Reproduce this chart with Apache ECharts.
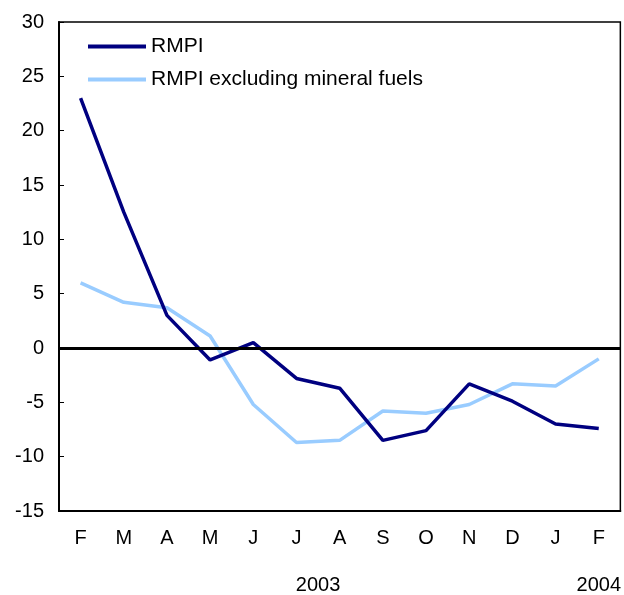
<!DOCTYPE html>
<html>
<head>
<meta charset="utf-8">
<script src="https://cdn.jsdelivr.net/npm/echarts@6/dist/echarts.min.js"></script>
<style>
  html, body { margin: 0; padding: 0; background: #fff; }
  #chart { width: 624px; height: 595px; }
</style>
</head>
<body>
<div id="chart"></div>
<script>
// 月份
const months = ['F', 'M', 'A', 'M', 'J', 'J', 'A', 'S', 'O', 'N', 'D', 'J', 'F']
// 年份标签（位置以月份序号计）
const yearLabels = [
  { pos: 6, text: '2003' },
  { pos: 12.5, text: '2004' }
]
const rmpi = [23.0, 12.5, 3.0, -1.1, 0.5, -2.8, -3.7, -8.5, -7.6, -3.3, -4.9, -7.0, -7.4]
const rmpiExFuels = [6.0, 4.2, 3.7, 1.1, -5.2, -8.7, -8.5, -5.8, -6.0, -5.2, -3.3, -3.5, -1.0]

const font = 'Liberation Sans, Arial, sans-serif'
const fs = 20

let chart = echarts.init(document.getElementById('chart'))
let option = {
  animation: false,
  textStyle: { fontFamily: font },
  legend: {
    left: 83,
    top: 31,
    orient: 'vertical',
    itemGap: 12,
    itemWidth: 58,
    itemHeight: 4,
    icon: 'rect',
    textStyle: { fontSize: 21, color: '#000', fontFamily: font },
    data: ['RMPI', 'RMPI excluding mineral fuels']
  },
  grid: {
    left: 59,
    right: 3,
    top: 22,
    bottom: 84,
    show: true,
    borderColor: '#000',
    borderWidth: 1.5
  },
  xAxis: [
    {
      type: 'category',
      data: months,
      boundaryGap: true,
      axisLine: { onZero: false, lineStyle: { color: '#000', width: 2 } },
      axisTick: { inside: true, length: 5, lineStyle: { color: '#000', width: 1 } },
      axisLabel: { color: '#000', fontSize: fs, margin: 17, fontFamily: font }
    },
    {
      // 年份
      type: 'value',
      position: 'bottom',
      min: 0,
      max: months.length,
      interval: 0.5,
      axisLine: { show: false },
      axisTick: { show: false },
      splitLine: { show: false },
      axisLabel: {
        color: '#000',
        fontSize: fs,
        margin: 64,
        fontFamily: font,
        formatter: function (v) {
          let y = yearLabels.find(d => Math.abs(d.pos - v) < 1e-6)
          return y ? y.text : ''
        }
      }
    }
  ],
  yAxis: {
    type: 'value',
    min: -15,
    max: 30,
    interval: 5,
    axisLine: { show: true, lineStyle: { color: '#000', width: 2 } },
    axisTick: { show: true, inside: true, length: 5, lineStyle: { color: '#000', width: 1 } },
    splitLine: { show: false },
    axisLabel: { color: '#000', fontSize: fs, margin: 15, fontFamily: font }
  },
  series: [
    {
      name: 'RMPI',
      type: 'line',
      data: rmpi,
      symbol: 'none',
      color: '#000080',
      lineStyle: { color: '#000080', width: 3.5 },
      z: 3,
      markLine: {
        silent: true,
        symbol: 'none',
        label: { show: false },
        lineStyle: { color: '#000', width: 3, type: 'solid' },
        data: [{ yAxis: 0 }]
      }
    },
    {
      name: 'RMPI excluding mineral fuels',
      type: 'line',
      data: rmpiExFuels,
      symbol: 'none',
      color: '#99CCFF',
      lineStyle: { color: '#99CCFF', width: 3.5 },
      z: 2
    }
  ]
}
chart.setOption(option)
</script>
</body>
</html>
